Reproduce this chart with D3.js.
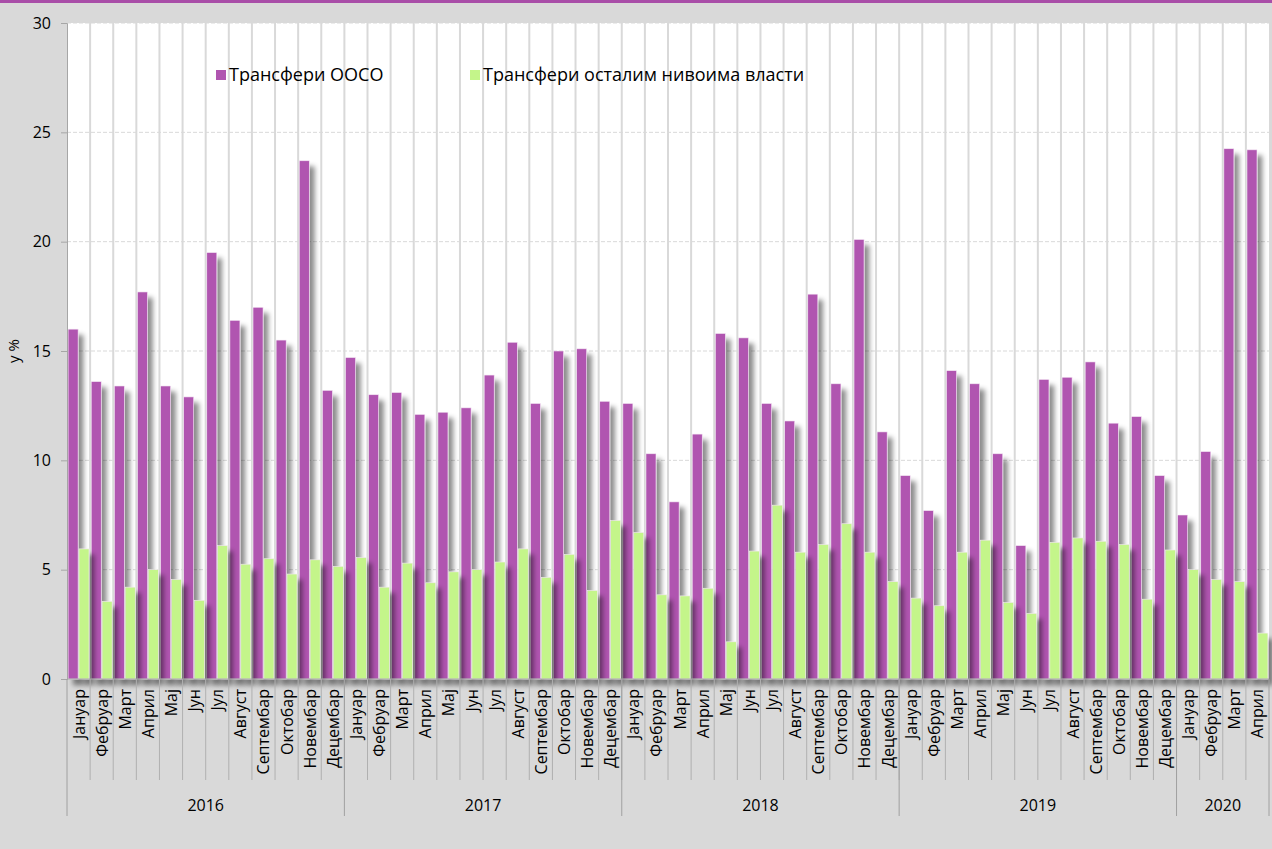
<!DOCTYPE html>
<html>
<head>
<meta charset="utf-8">
<script src="https://cdn.jsdelivr.net/npm/d3@7"></script>
<style>
  body { margin: 0; background: #d9d9d9; }
  svg { display: block; font-family: "Open Sans", "Noto Sans", sans-serif; }
</style>
</head>
<body>
<div id="chart"></div>
<script>
var months = ["Јануар","Фебруар","Март","Април","Мај","Јун","Јул","Август","Септембар","Октобар","Новембар","Децембар"];
var years = ["2016","2017","2018","2019","2020"];
var monthsPerYear = [12, 12, 12, 12, 4];
var seriesNames = ["Трансфери ООСО", "Трансфери осталим нивоима власти"];

var oosoValues = [
  16.0, 13.6, 13.4, 17.7, 13.4, 12.9, 19.5, 16.4, 17.0, 15.5, 23.7, 13.2,
  14.7, 13.0, 13.1, 12.1, 12.2, 12.4, 13.9, 15.4, 12.6, 15.0, 15.1, 12.7,
  12.6, 10.3, 8.1, 11.2, 15.8, 15.6, 12.6, 11.8, 17.6, 13.5, 20.1, 11.3,
  9.3, 7.7, 14.1, 13.5, 10.3, 6.1, 13.7, 13.8, 14.5, 11.7, 12.0, 9.3,
  7.5, 10.4, 24.25, 24.2
];
var otherValues = [
  5.95, 3.55, 4.2, 5.0, 4.55, 3.6, 6.1, 5.25, 5.5, 4.8, 5.45, 5.15,
  5.55, 4.2, 5.3, 4.4, 4.9, 5.0, 5.35, 5.95, 4.65, 5.7, 4.05, 7.25,
  6.7, 3.85, 3.8, 4.15, 1.7, 5.85, 7.95, 5.8, 6.15, 7.1, 5.8, 4.45,
  3.7, 3.35, 5.8, 6.35, 3.5, 3.0, 6.25, 6.45, 6.3, 6.15, 3.65, 5.9,
  5.0, 4.55, 4.45, 2.1
];
var yTicks = [0, 5, 10, 15, 20, 25, 30];
var colors = ["#b055b0", "#c4f58a"];

// build category list
var cats = [];
years.forEach(function(y, yi) {
  for (var m = 0; m < monthsPerYear[yi]; m++) cats.push({year: y, month: months[m], key: y + "-" + m});
});

var width = 1272, height = 849;
var pLeft = 67, pRight = 1269, pTop = 23, pBottom = 679;

var svg = d3.select("#chart").append("svg")
  .attr("width", width).attr("height", height);

var defs = svg.append("defs");
var f = defs.append("filter").attr("id", "shadow")
  .attr("x", "-50%").attr("y", "-5%").attr("width", "250%").attr("height", "115%");
f.append("feDropShadow").attr("dx", 5).attr("dy", 6).attr("stdDeviation", 2.5)
  .attr("flood-color", "#000").attr("flood-opacity", 0.45);

svg.append("rect").attr("width", width).attr("height", height).attr("fill", "#d9d9d9");
svg.append("rect").attr("width", width).attr("height", 3).attr("fill", "#a94ea8");

var x = d3.scaleBand().domain(cats.map(function(d) { return d.key; }))
  .range([pLeft, pRight]).paddingInner(0).paddingOuter(0);
var y = d3.scaleLinear().domain([0, 30]).range([pBottom, pTop]);
var sub = d3.scaleBand().domain([0, 1]).range([0, x.bandwidth()]).paddingInner(0.08).paddingOuter(0.1);

// plot area
svg.append("rect").attr("x", pLeft).attr("y", pTop).attr("width", pRight - pLeft).attr("height", pBottom - pTop)
  .attr("fill", "#fff");

// horizontal gridlines
svg.append("g").selectAll("line").data(yTicks.filter(function(d) { return d > 0; })).enter().append("line")
  .attr("x1", pLeft).attr("x2", pRight)
  .attr("y1", function(d) { return y(d); }).attr("y2", function(d) { return y(d); })
  .attr("stroke", "#d9d9d9").attr("stroke-dasharray", "4,2").attr("stroke-width", 1);

// vertical gridlines
svg.append("g").selectAll("line").data(cats.slice(1)).enter().append("line")
  .attr("x1", function(d) { return x(d.key); }).attr("x2", function(d) { return x(d.key); })
  .attr("y1", pTop).attr("y2", pBottom)
  .attr("stroke", "#d9d9d9").attr("stroke-width", 2);

// bars
var series = [oosoValues, otherValues];
series.forEach(function(vals, si) {
  svg.append("g").attr("filter", "url(#shadow)").selectAll("rect").data(cats).enter().append("rect")
    .attr("x", function(d) { return x(d.key) + sub(si); })
    .attr("width", sub.bandwidth())
    .attr("y", function(d, i) { return y(vals[i]); })
    .attr("height", function(d, i) { return y(0) - y(vals[i]); })
    .attr("fill", colors[si])
    .attr("stroke", "#f4e8f4").attr("stroke-width", 0.6);
});

// y axis
var yAxis = svg.append("g").attr("transform", "translate(" + pLeft + ",0)")
  .call(d3.axisLeft(y).tickValues(yTicks).tickSize(6).tickPadding(10));
yAxis.select(".domain").attr("stroke", "#a6a6a6");
yAxis.selectAll(".tick line").attr("stroke", "#a6a6a6");
yAxis.selectAll("text").attr("font-size", 16).attr("fill", "#000")
  .attr("font-family", "Open Sans, sans-serif");

svg.append("text").attr("transform", "translate(19," + ((pTop + pBottom) / 2) + ") rotate(-90)")
  .attr("text-anchor", "middle").attr("font-size", 15).text("у %");

// x axis line
svg.append("line").attr("x1", pLeft).attr("x2", pRight).attr("y1", pBottom).attr("y2", pBottom)
  .attr("stroke", "#a6a6a6");

// month separators
var xa = svg.append("g");
xa.selectAll("line.m").data(cats.slice(1)).enter().append("line")
  .attr("x1", function(d) { return x(d.key); }).attr("x2", function(d) { return x(d.key); })
  .attr("y1", pBottom).attr("y2", 780).attr("stroke", "#b0b0b0");
xa.selectAll("text.m").data(cats).enter().append("text")
  .attr("transform", function(d) { return "translate(" + (x(d.key) + x.bandwidth() / 2 + 6) + ",689) rotate(-90)"; })
  .attr("text-anchor", "end").attr("font-size", 16).text(function(d) { return d.month; });

// year separators and labels
var start = 0, yearBounds = [];
years.forEach(function(yr, yi) {
  yearBounds.push({year: yr, s: start, e: start + monthsPerYear[yi]});
  start += monthsPerYear[yi];
});
function bx(i) { return i < cats.length ? x(cats[i].key) : pRight; }
var yb = [0].concat(yearBounds.map(function(d) { return d.e; }));
xa.selectAll("line.y").data(yb).enter().append("line")
  .attr("x1", function(d) { return bx(d); }).attr("x2", function(d) { return bx(d); })
  .attr("y1", pBottom).attr("y2", 816).attr("stroke", "#a0a0a0");
xa.selectAll("text.y").data(yearBounds).enter().append("text")
  .attr("x", function(d) { return (bx(d.s) + bx(d.e)) / 2; }).attr("y", 811)
  .attr("text-anchor", "middle").attr("font-size", 16).text(function(d) { return d.year; });

// legend
var legendPos = [216, 470];
seriesNames.forEach(function(n, i) {
  var g = svg.append("g").attr("transform", "translate(" + legendPos[i] + ",70)");
  g.append("rect").attr("width", 10).attr("height", 10).attr("fill", colors[i]);
  g.append("text").attr("x", 13).attr("y", 11).attr("font-size", 18).text(n);
});
</script>
</body>
</html>
